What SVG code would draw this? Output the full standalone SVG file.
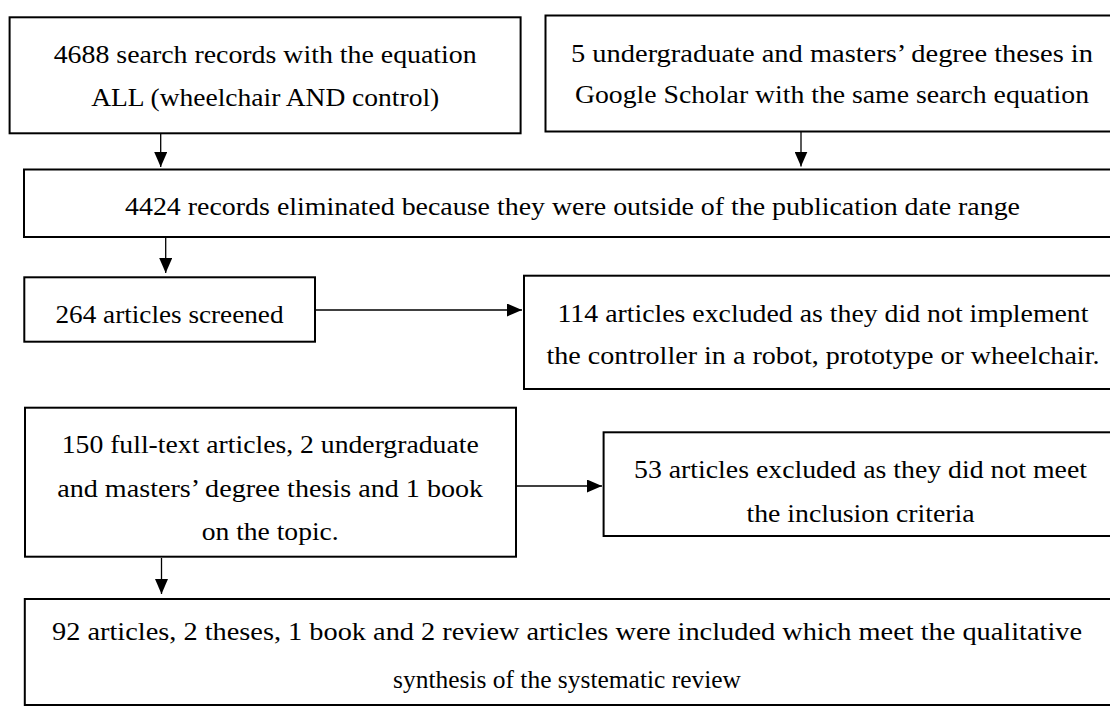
<svg xmlns="http://www.w3.org/2000/svg" width="1110" height="707" viewBox="0 0 1110 707">
<defs>
<style>
.box{fill:#fff;stroke:#000;stroke-width:2}
.t{font-family:"Liberation Serif","DejaVu Serif",serif;font-size:25px;fill:#000;text-anchor:middle}
.c{stroke:#000;stroke-width:1.3;fill:none;marker-end:url(#ah)}
</style>
<marker id="ah" viewBox="0 0 15 13" refX="15" refY="6.5" markerWidth="15" markerHeight="13" orient="auto" markerUnits="userSpaceOnUse">
<path d="M0,0 L15,6.5 L0,13 Z" fill="#000"/>
</marker>
</defs>
<rect width="1110" height="707" fill="#fff"/>
<g id="connectors">
<line class="c" x1="160.7" y1="134" x2="160.7" y2="167"/>
<line class="c" x1="801" y1="132" x2="801" y2="166.5"/>
<line class="c" x1="165.7" y1="238" x2="165.7" y2="273"/>
<line class="c" x1="316" y1="310" x2="522" y2="310"/>
<line class="c" x1="517" y1="486" x2="602" y2="486"/>
<line class="c" x1="161.5" y1="558" x2="161.5" y2="594"/>
</g>
<g id="n1">
<rect class="box" x="9.6" y="17.3" width="511" height="116"/>
<text class="t" x="265.2" y="62.5" textLength="423" lengthAdjust="spacingAndGlyphs">4688 search records with the equation</text>
<text class="t" x="265.2" y="105.5" textLength="348" lengthAdjust="spacingAndGlyphs">ALL (wheelchair AND control)</text>
</g>
<g id="n2">
<rect class="box" x="545.5" y="15.5" width="580" height="116"/>
<text class="t" x="832" y="62" textLength="522" lengthAdjust="spacingAndGlyphs">5 undergraduate and masters’ degree theses in</text>
<text class="t" x="832" y="103" textLength="514" lengthAdjust="spacingAndGlyphs">Google Scholar with the same search equation</text>
</g>
<g id="n3">
<rect class="box" x="24" y="169.5" width="1100" height="67.5"/>
<text class="t" x="572.5" y="215" textLength="895" lengthAdjust="spacingAndGlyphs">4424 records eliminated because they were outside of the publication date range</text>
</g>
<g id="n4">
<rect class="box" x="24.3" y="277.3" width="290.7" height="64.4"/>
<text class="t" x="169.5" y="323" textLength="228" lengthAdjust="spacingAndGlyphs">264 articles screened</text>
</g>
<g id="n5">
<rect class="box" x="524" y="275.7" width="600" height="113.3"/>
<text class="t" x="823" y="321.5" textLength="531" lengthAdjust="spacingAndGlyphs">114 articles excluded as they did not implement</text>
<text class="t" x="823" y="363.5" textLength="553" lengthAdjust="spacingAndGlyphs">the controller in a robot, prototype or wheelchair.</text>
</g>
<g id="n6">
<rect class="box" x="25" y="407.7" width="491" height="149"/>
<text class="t" x="270.2" y="452.5" textLength="417" lengthAdjust="spacingAndGlyphs">150 full-text articles, 2 undergraduate</text>
<text class="t" x="270.2" y="496.5" textLength="426" lengthAdjust="spacingAndGlyphs">and masters’ degree thesis and 1 book</text>
<text class="t" x="270.2" y="540" textLength="137" lengthAdjust="spacingAndGlyphs">on the topic.</text>
</g>
<g id="n7">
<rect class="box" x="603.6" y="432.3" width="520" height="103.7"/>
<text class="t" x="860.5" y="478" textLength="453" lengthAdjust="spacingAndGlyphs">53 articles excluded as they did not meet</text>
<text class="t" x="860.5" y="521.5" textLength="228" lengthAdjust="spacingAndGlyphs">the inclusion criteria</text>
</g>
<g id="n8">
<rect class="box" x="24.8" y="599" width="1100" height="106"/>
<text class="t" x="567" y="640" textLength="1030" lengthAdjust="spacingAndGlyphs">92 articles, 2 theses, 1 book and 2 review articles were included which meet the qualitative</text>
<text class="t" x="567" y="688" textLength="348" lengthAdjust="spacingAndGlyphs">synthesis of the systematic review</text>
</g>
</svg>
